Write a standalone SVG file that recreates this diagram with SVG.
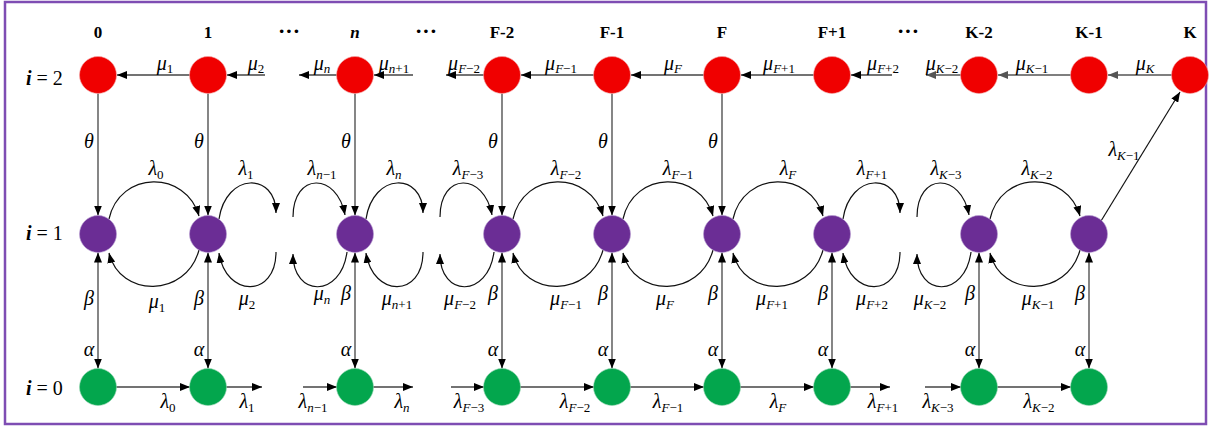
<svg xmlns="http://www.w3.org/2000/svg" width="1211" height="427" viewBox="0 0 1211 427">
<defs>
<marker id="ah" markerUnits="userSpaceOnUse" markerWidth="10" markerHeight="8" refX="10" refY="4" orient="auto-start-reverse"><path d="M0,0 L10,4 L0,8 Z" fill="#000"/></marker>
<marker id="ahg" markerUnits="userSpaceOnUse" markerWidth="10" markerHeight="8" refX="10" refY="4" orient="auto"><path d="M0,0 L10,4 L0,8 Z" fill="#555"/></marker>
<style>
.t{font-family:"Liberation Serif","Times New Roman",serif;font-style:italic;font-size:20px;fill:#000;text-anchor:middle}
.sb{font-style:normal;font-size:13px}
.v{font-style:italic}
.col{font-family:"Liberation Serif","Times New Roman",serif;font-weight:bold;font-size:17px;fill:#000;text-anchor:middle}
.dots{font-family:"Liberation Serif","Times New Roman",serif;font-weight:bold;font-size:22px;fill:#000;text-anchor:middle}
.rl{font-family:"Liberation Serif","Times New Roman",serif;font-size:20px;fill:#000}
.ln{stroke:#444;stroke-width:1.3;fill:none}
.lg{stroke:#555;stroke-width:1.3;fill:none}
.arc{stroke:#111;stroke-width:1.2;fill:none}
.red{fill:#F00000;stroke:#f4a0a0;stroke-width:0.6}
.pur{fill:#6B2D95;stroke:#b69bd0;stroke-width:0.6}
.grn{fill:#03A64D;stroke:#8fd3ac;stroke-width:0.6}
</style>
</defs>
<rect x="5" y="2" width="1201" height="422" fill="#fff" stroke="#7E4DB3" stroke-width="2.5"/>

<g id="labels">
<text class="col" x="98" y="38">0</text>
<text class="col" x="208" y="38">1</text>
<text class="dots" x="289" y="38">···</text>
<text class="col" x="355" y="38" font-style="italic" font-size="19">n</text>
<text class="dots" x="426" y="38">···</text>
<text class="col" x="502" y="38">F-2</text>
<text class="col" x="612" y="38">F-1</text>
<text class="col" x="722" y="38">F</text>
<text class="col" x="832" y="38">F+1</text>
<text class="dots" x="908" y="38">···</text>
<text class="col" x="979" y="38">K-2</text>
<text class="col" x="1089" y="38">K-1</text>
<text class="col" x="1190" y="38">K</text>
<text class="rl" x="26" y="85"><tspan font-weight="bold" font-style="italic">i</tspan> = 2</text>
<text class="rl" x="26" y="240"><tspan font-weight="bold" font-style="italic">i</tspan> = 1</text>
<text class="rl" x="26" y="395"><tspan font-weight="bold" font-style="italic">i</tspan> = 0</text>
</g>

<g id="connectors">
<path class="ln" d="M190 75 H117" marker-end="url(#ah)"/>
<path class="ln" d="M265 75 H227" marker-end="url(#ah)"/>
<path class="ln" d="M337 75 H299" marker-end="url(#ah)"/>
<path class="ln" d="M413 75 H374" marker-end="url(#ah)"/>
<path class="ln" d="M484 75 H446" marker-end="url(#ah)"/>
<path class="ln" d="M594 75 H521" marker-end="url(#ah)"/>
<path class="ln" d="M704 75 H631" marker-end="url(#ah)"/>
<path class="ln" d="M814 75 H741" marker-end="url(#ah)"/>
<path class="ln" d="M892 75 H851" marker-end="url(#ah)"/>
<path class="lg" d="M961 75 H926" marker-end="url(#ahg)"/>
<path class="lg" d="M1071 75 H998" marker-end="url(#ahg)"/>
<path class="lg" d="M1172 75 H1108" marker-end="url(#ahg)"/>
<path class="ln" d="M98 93.5 V215.5" marker-end="url(#ah)"/>
<path class="ln" d="M208 93.5 V215.5" marker-end="url(#ah)"/>
<path class="ln" d="M355 93.5 V215.5" marker-end="url(#ah)"/>
<path class="ln" d="M502 93.5 V215.5" marker-end="url(#ah)"/>
<path class="ln" d="M612 93.5 V215.5" marker-end="url(#ah)"/>
<path class="ln" d="M722 93.5 V215.5" marker-end="url(#ah)"/>
<path class="arc" d="M1101 221 L1180 92" marker-end="url(#ah)"/>
<path class="ln" d="M98 252.5 V368.5" marker-start="url(#ah)" marker-end="url(#ah)"/>
<path class="ln" d="M208 252.5 V368.5" marker-start="url(#ah)" marker-end="url(#ah)"/>
<path class="ln" d="M355 252.5 V368.5" marker-start="url(#ah)" marker-end="url(#ah)"/>
<path class="ln" d="M502 252.5 V368.5" marker-start="url(#ah)" marker-end="url(#ah)"/>
<path class="ln" d="M612 252.5 V368.5" marker-start="url(#ah)" marker-end="url(#ah)"/>
<path class="ln" d="M722 252.5 V368.5" marker-start="url(#ah)" marker-end="url(#ah)"/>
<path class="ln" d="M832 252.5 V368.5" marker-start="url(#ah)" marker-end="url(#ah)"/>
<path class="ln" d="M979 252.5 V368.5" marker-start="url(#ah)" marker-end="url(#ah)"/>
<path class="ln" d="M1089 252.5 V368.5" marker-start="url(#ah)" marker-end="url(#ah)"/>
<path class="arc" d="M109 219 C120 170 186 170 199 216" marker-end="url(#ah)"/>
<path class="arc" d="M513 219 C524 170 590 170 603 216" marker-end="url(#ah)"/>
<path class="arc" d="M623 219 C634 170 700 170 713 216" marker-end="url(#ah)"/>
<path class="arc" d="M733 219 C744 170 810 170 823 216" marker-end="url(#ah)"/>
<path class="arc" d="M990 219 C1001 170 1067 170 1080 216" marker-end="url(#ah)"/>
<path class="arc" d="M199 250 C186 298 120 298 109 253" marker-end="url(#ah)"/>
<path class="arc" d="M603 250 C590 298 524 298 513 253" marker-end="url(#ah)"/>
<path class="arc" d="M713 250 C700 298 634 298 623 253" marker-end="url(#ah)"/>
<path class="arc" d="M823 250 C810 298 744 298 733 253" marker-end="url(#ah)"/>
<path class="arc" d="M1080 250 C1067 298 1001 298 990 253" marker-end="url(#ah)"/>
<path class="arc" d="M219 219 C226 172 276 172 276 213" marker-end="url(#ah)"/>
<path class="arc" d="M276 252 C276 298 226 298 219 253" marker-end="url(#ah)"/>
<path class="arc" d="M366 219 C373 172 423 172 423 213" marker-end="url(#ah)"/>
<path class="arc" d="M423 252 C423 298 373 298 366 253" marker-end="url(#ah)"/>
<path class="arc" d="M843 219 C850 172 900 172 900 213" marker-end="url(#ah)"/>
<path class="arc" d="M900 252 C900 298 850 298 843 253" marker-end="url(#ah)"/>
<path class="arc" d="M293 217 C293 172 337 172 345 215" marker-end="url(#ah)"/>
<path class="arc" d="M347 252 C341 298 293 298 293 254" marker-end="url(#ah)"/>
<path class="arc" d="M440 217 C440 172 484 172 492 215" marker-end="url(#ah)"/>
<path class="arc" d="M494 252 C488 298 440 298 440 254" marker-end="url(#ah)"/>
<path class="arc" d="M917 217 C917 172 961 172 969 215" marker-end="url(#ah)"/>
<path class="arc" d="M971 252 C965 298 917 298 917 254" marker-end="url(#ah)"/>
<path class="ln" d="M116 387 H190" marker-end="url(#ah)"/>
<path class="ln" d="M226 387 H262" marker-end="url(#ah)"/>
<path class="ln" d="M303 387 H337" marker-end="url(#ah)"/>
<path class="ln" d="M373 387 H413" marker-end="url(#ah)"/>
<path class="ln" d="M451 387 H484" marker-end="url(#ah)"/>
<path class="ln" d="M520 387 H594" marker-end="url(#ah)"/>
<path class="ln" d="M630 387 H704" marker-end="url(#ah)"/>
<path class="ln" d="M740 387 H814" marker-end="url(#ah)"/>
<path class="ln" d="M850 387 H890" marker-end="url(#ah)"/>
<path class="ln" d="M925 387 H961" marker-end="url(#ah)"/>
<path class="ln" d="M997 387 H1071" marker-end="url(#ah)"/>
</g>

<g id="rate-labels">
<text class="t" x="165" y="70">μ<tspan class="sb" dy="3">1</tspan></text>
<text class="t" x="256" y="70">μ<tspan class="sb" dy="3">2</tspan></text>
<text class="t" x="322" y="70">μ<tspan class="sb v" dy="3">n</tspan></text>
<text class="t" x="394" y="70">μ<tspan class="sb" dy="3"><tspan class="v">n</tspan>+1</tspan></text>
<text class="t" x="464" y="70">μ<tspan class="sb" dy="3"><tspan class="v">F</tspan>−2</tspan></text>
<text class="t" x="561" y="70">μ<tspan class="sb" dy="3"><tspan class="v">F</tspan>−1</tspan></text>
<text class="t" x="673" y="70">μ<tspan class="sb v" dy="3">F</tspan></text>
<text class="t" x="779" y="70">μ<tspan class="sb" dy="3"><tspan class="v">F</tspan>+1</tspan></text>
<text class="t" x="883" y="70">μ<tspan class="sb" dy="3"><tspan class="v">F</tspan>+2</tspan></text>
<text class="t" x="942" y="70">μ<tspan class="sb" dy="3"><tspan class="v">K</tspan>−2</tspan></text>
<text class="t" x="1032" y="70">μ<tspan class="sb" dy="3"><tspan class="v">K</tspan>−1</tspan></text>
<text class="t" x="1145" y="70">μ<tspan class="sb v" dy="3">K</tspan></text>
<text class="t" x="89" y="148">θ</text>
<text class="t" x="199" y="148">θ</text>
<text class="t" x="346" y="148">θ</text>
<text class="t" x="493" y="148">θ</text>
<text class="t" x="603" y="148">θ</text>
<text class="t" x="713" y="148">θ</text>
<text class="t" x="156" y="175">λ<tspan class="sb" dy="4">0</tspan></text>
<text class="t" x="246" y="175">λ<tspan class="sb" dy="4">1</tspan></text>
<text class="t" x="322" y="175">λ<tspan class="sb" dy="4"><tspan class="v">n</tspan>−1</tspan></text>
<text class="t" x="394" y="175">λ<tspan class="sb v" dy="4">n</tspan></text>
<text class="t" x="468" y="175">λ<tspan class="sb" dy="4"><tspan class="v">F</tspan>−3</tspan></text>
<text class="t" x="566" y="175">λ<tspan class="sb" dy="4"><tspan class="v">F</tspan>−2</tspan></text>
<text class="t" x="678" y="175">λ<tspan class="sb" dy="4"><tspan class="v">F</tspan>−1</tspan></text>
<text class="t" x="788" y="175">λ<tspan class="sb v" dy="4">F</tspan></text>
<text class="t" x="872" y="175">λ<tspan class="sb" dy="4"><tspan class="v">F</tspan>+1</tspan></text>
<text class="t" x="946" y="175">λ<tspan class="sb" dy="4"><tspan class="v">K</tspan>−3</tspan></text>
<text class="t" x="1037" y="175">λ<tspan class="sb" dy="4"><tspan class="v">K</tspan>−2</tspan></text>
<text class="t" x="1124" y="156">λ<tspan class="sb" dy="4"><tspan class="v">K</tspan>−1</tspan></text>
<text class="t" x="157" y="308">μ<tspan class="sb" dy="4">1</tspan></text>
<text class="t" x="247" y="305">μ<tspan class="sb" dy="4">2</tspan></text>
<text class="t" x="322" y="300">μ<tspan class="sb v" dy="4">n</tspan></text>
<text class="t" x="397" y="305">μ<tspan class="sb" dy="4"><tspan class="v">n</tspan>+1</tspan></text>
<text class="t" x="460" y="305">μ<tspan class="sb" dy="4"><tspan class="v">F</tspan>−2</tspan></text>
<text class="t" x="566" y="305">μ<tspan class="sb" dy="4"><tspan class="v">F</tspan>−1</tspan></text>
<text class="t" x="665" y="305">μ<tspan class="sb v" dy="4">F</tspan></text>
<text class="t" x="772" y="305">μ<tspan class="sb" dy="4"><tspan class="v">F</tspan>+1</tspan></text>
<text class="t" x="872" y="305">μ<tspan class="sb" dy="4"><tspan class="v">F</tspan>+2</tspan></text>
<text class="t" x="930" y="305">μ<tspan class="sb" dy="4"><tspan class="v">K</tspan>−2</tspan></text>
<text class="t" x="1038" y="305">μ<tspan class="sb" dy="4"><tspan class="v">K</tspan>−1</tspan></text>
<text class="t" x="89" y="305">β</text>
<text class="t" x="199" y="305">β</text>
<text class="t" x="346" y="300">β</text>
<text class="t" x="493" y="300">β</text>
<text class="t" x="603" y="300">β</text>
<text class="t" x="713" y="300">β</text>
<text class="t" x="823" y="300">β</text>
<text class="t" x="970" y="300">β</text>
<text class="t" x="1080" y="300">β</text>
<text class="t" x="89" y="356">α</text>
<text class="t" x="199" y="356">α</text>
<text class="t" x="346" y="356">α</text>
<text class="t" x="493" y="356">α</text>
<text class="t" x="603" y="356">α</text>
<text class="t" x="713" y="356">α</text>
<text class="t" x="823" y="356">α</text>
<text class="t" x="970" y="356">α</text>
<text class="t" x="1080" y="356">α</text>
<text class="t" x="168" y="408">λ<tspan class="sb" dy="4">0</tspan></text>
<text class="t" x="247" y="408">λ<tspan class="sb" dy="4">1</tspan></text>
<text class="t" x="313" y="408">λ<tspan class="sb" dy="4"><tspan class="v">n</tspan>−1</tspan></text>
<text class="t" x="402" y="408">λ<tspan class="sb v" dy="4">n</tspan></text>
<text class="t" x="469" y="408">λ<tspan class="sb" dy="4"><tspan class="v">F</tspan>−3</tspan></text>
<text class="t" x="575" y="408">λ<tspan class="sb" dy="4"><tspan class="v">F</tspan>−2</tspan></text>
<text class="t" x="668" y="408">λ<tspan class="sb" dy="4"><tspan class="v">F</tspan>−1</tspan></text>
<text class="t" x="778" y="408">λ<tspan class="sb v" dy="4">F</tspan></text>
<text class="t" x="883" y="408">λ<tspan class="sb" dy="4"><tspan class="v">F</tspan>+1</tspan></text>
<text class="t" x="938" y="408">λ<tspan class="sb" dy="4"><tspan class="v">K</tspan>−3</tspan></text>
<text class="t" x="1039" y="408">λ<tspan class="sb" dy="4"><tspan class="v">K</tspan>−2</tspan></text>
</g>

<g id="node-r0"><circle class="red" cx="98" cy="75" r="18.5"/></g>
<g id="node-r1"><circle class="red" cx="208" cy="75" r="18.5"/></g>
<g id="node-rn"><circle class="red" cx="355" cy="75" r="18.5"/></g>
<g id="node-rF-2"><circle class="red" cx="502" cy="75" r="18.5"/></g>
<g id="node-rF-1"><circle class="red" cx="612" cy="75" r="18.5"/></g>
<g id="node-rF"><circle class="red" cx="722" cy="75" r="18.5"/></g>
<g id="node-rF+1"><circle class="red" cx="832" cy="75" r="18.5"/></g>
<g id="node-rK-2"><circle class="red" cx="979" cy="75" r="18.5"/></g>
<g id="node-rK-1"><circle class="red" cx="1089" cy="75" r="18.5"/></g>
<g id="node-rK"><circle class="red" cx="1190" cy="75" r="18.5"/></g>

<g id="node-p0"><circle class="pur" cx="98" cy="234" r="18.5"/></g>
<g id="node-p1"><circle class="pur" cx="208" cy="234" r="18.5"/></g>
<g id="node-pn"><circle class="pur" cx="355" cy="234" r="18.5"/></g>
<g id="node-pF-2"><circle class="pur" cx="502" cy="234" r="18.5"/></g>
<g id="node-pF-1"><circle class="pur" cx="612" cy="234" r="18.5"/></g>
<g id="node-pF"><circle class="pur" cx="722" cy="234" r="18.5"/></g>
<g id="node-pF+1"><circle class="pur" cx="832" cy="234" r="18.5"/></g>
<g id="node-pK-2"><circle class="pur" cx="979" cy="234" r="18.5"/></g>
<g id="node-pK-1"><circle class="pur" cx="1089" cy="234" r="18.5"/></g>

<g id="node-g0"><circle class="grn" cx="98" cy="387" r="18.5"/></g>
<g id="node-g1"><circle class="grn" cx="208" cy="387" r="18.5"/></g>
<g id="node-gn"><circle class="grn" cx="355" cy="387" r="18.5"/></g>
<g id="node-gF-2"><circle class="grn" cx="502" cy="387" r="18.5"/></g>
<g id="node-gF-1"><circle class="grn" cx="612" cy="387" r="18.5"/></g>
<g id="node-gF"><circle class="grn" cx="722" cy="387" r="18.5"/></g>
<g id="node-gF+1"><circle class="grn" cx="832" cy="387" r="18.5"/></g>
<g id="node-gK-2"><circle class="grn" cx="979" cy="387" r="18.5"/></g>
<g id="node-gK-1"><circle class="grn" cx="1089" cy="387" r="18.5"/></g>
</svg>
